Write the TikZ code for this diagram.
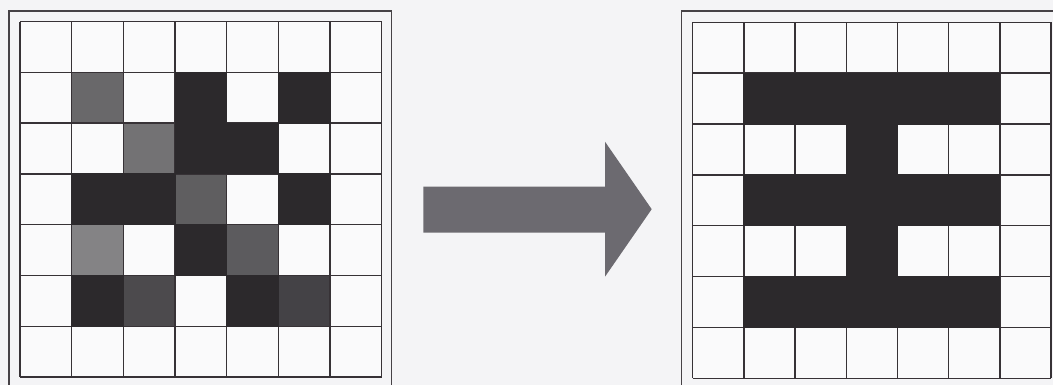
\documentclass[tikz,border=0pt]{standalone}
\definecolor{bgc}{RGB}{244,244,246}
\definecolor{cellw}{RGB}{250,250,251}
\definecolor{blk}{RGB}{44,41,44}
\definecolor{linec}{RGB}{55,50,54}
\definecolor{framec}{RGB}{70,66,70}
\definecolor{arrowc}{RGB}{108,106,112}
\definecolor{ga}{RGB}{105,104,106}
\definecolor{gb}{RGB}{115,114,116}
\definecolor{gc}{RGB}{95,94,96}
\definecolor{gd}{RGB}{132,131,133}
\definecolor{ge}{RGB}{92,91,94}
\definecolor{gf}{RGB}{76,74,77}
\definecolor{gg}{RGB}{68,66,70}
\tikzset{
  gridline/.style={draw=linec, line width=1.4pt},
  frameline/.style={draw=framec, line width=1.3pt},
  blackcell/.style={fill=blk, draw=blk, line width=1.0pt},
}
\begin{document}
\begin{tikzpicture}[x=1pt,y=-1pt]
\clip (0,0) rectangle (1053,385);
\fill[bgc] (0,0) rectangle (1053,385);
% outer frames
\draw[frameline] (9,395) -- (9,11) -- (391.7,11) -- (391.7,395);
\draw[frameline] (681.7,395) -- (681.7,11) -- (1070,11);
% left grid
\begin{scope}[shift={(20,21.7)}, x=51.67pt, y=-50.75pt]
  \fill[cellw] (0,0) rectangle (7,7);
  \foreach \c/\r/\g in {1/1/ga, 2/2/gb, 3/3/gc, 1/4/gd, 4/4/ge, 2/5/gf, 5/5/gg}
    \fill[\g] (\c,\r) rectangle (\c+1,\r+1);
  \foreach \i in {0,...,7} {
    \draw[gridline] (\i,0) -- (\i,7);
    \draw[gridline] (0,\i) -- (7,\i);
  }
  \foreach \c/\r in {3/1, 5/1, 3/2, 4/2, 1/3, 2/3, 5/3, 3/4, 1/5, 4/5}
    \path[blackcell] (\c,\r) rectangle (\c+1,\r+1);
\end{scope}
% right grid
\begin{scope}[shift={(692.7,22.3)}, x=51.2pt, y=-50.86pt]
  \fill[cellw] (0,0) rectangle (7,7);
  \foreach \i in {0,...,7} {
    \draw[gridline] (\i,0) -- (\i,7);
    \draw[gridline] (0,\i) -- (7,\i);
  }
  \path[blackcell] (1,1) rectangle (6,2);
  \path[blackcell] (1,3) rectangle (6,4);
  \path[blackcell] (1,5) rectangle (6,6);
  \path[blackcell] (3,2) rectangle (4,5);
\end{scope}
% arrow
\fill[arrowc] (423.3,186.7) -- (605,186.7) -- (605,141.7) -- (651.7,209.2)
  -- (605,276.7) -- (605,232.7) -- (423.3,232.7) -- cycle;
\end{tikzpicture}
\end{document}
